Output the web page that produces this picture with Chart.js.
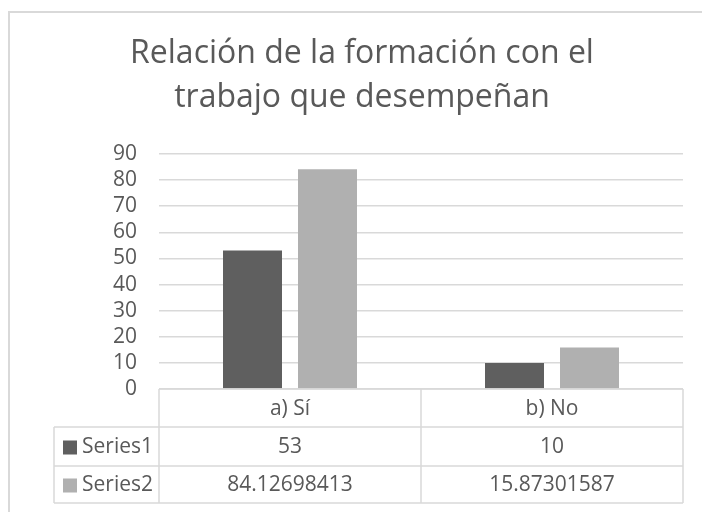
<!DOCTYPE html>
<html>
<head>
<meta charset="utf-8">
<script src="https://cdn.jsdelivr.net/npm/chart.js@4/dist/chart.umd.min.js"></script>
<style>
  body { margin: 0; background: #fff; overflow: hidden; }
  #frame {
    position: absolute; left: 8px; top: 11px;
    border-left: 2px solid #d9d9d9; border-top: 2px solid #d9d9d9;
    width: 704px; height: 500px;
  }
</style>
</head>
<body>
<div id="frame"><canvas id="chart" width="704" height="500"></canvas></div>
<script>
const categories = ["a) Sí", "b) No"];
const seriesNames = ["Series1", "Series2"];
const series1 = [53, 10];
const series2 = [84.12698413, 15.87301587];
const yTicks = [0, 10, 20, 30, 40, 50, 60, 70, 80, 90];

const colors = ["#5f5f5f", "#b0b0b0"];
const textColor = "#595959";
const lineColor = "#d9d9d9";
const fontFamily = "'Open Sans', sans-serif";

// data table under the plot, like Excel's
const dataTable = {
  id: "dataTable",
  afterDraw: chart => {
    const ctx = chart.ctx;
    const area = chart.chartArea;
    const x = chart.scales.x;
    const rows = [area.bottom, area.bottom + 38, area.bottom + 77, area.bottom + 114];
    const labelLeft = 44;
    const mid = (x.getPixelForValue(0) + x.getPixelForValue(1)) / 2;

    ctx.save();
    ctx.strokeStyle = lineColor;
    ctx.lineWidth = 1.5;
    ctx.beginPath();
    // horizontal lines
    ctx.moveTo(area.left, rows[0]); ctx.lineTo(area.right, rows[0]);
    for (let i = 1; i < rows.length; i++) {
      ctx.moveTo(labelLeft, rows[i]); ctx.lineTo(area.right, rows[i]);
    }
    // vertical lines
    ctx.moveTo(labelLeft, rows[1]); ctx.lineTo(labelLeft, rows[3]);
    [area.left, mid, area.right].forEach(px => {
      ctx.moveTo(px, rows[0]); ctx.lineTo(px, rows[3]);
    });
    ctx.stroke();

    ctx.fillStyle = textColor;
    ctx.font = "21px " + fontFamily;
    ctx.textBaseline = "middle";
    ctx.textAlign = "center";
    const cols = [(area.left + mid) / 2, (mid + area.right) / 2];
    categories.forEach((c, i) => ctx.fillText(c, cols[i], (rows[0] + rows[1]) / 2 + 1));

    const values = [series1, series2];
    seriesNames.forEach((name, r) => {
      const cy = (rows[r + 1] + rows[r + 2]) / 2 + 1;
      ctx.fillStyle = colors[r];
      ctx.fillRect(53, cy - 7, 14, 14);
      ctx.fillStyle = textColor;
      ctx.textAlign = "left";
      ctx.fillText(name, 72, cy);
      ctx.textAlign = "center";
      values[r].forEach((v, i) => ctx.fillText(String(v), cols[i], cy));
    });
    ctx.restore();
  }
};

new Chart(document.getElementById("chart").getContext("2d"), {
  type: "bar",
  data: {
    labels: categories,
    datasets: [
      { label: seriesNames[0], data: series1, backgroundColor: colors[0] },
      { label: seriesNames[1], data: series2, backgroundColor: colors[1] }
    ]
  },
  plugins: [dataTable],
  options: {
    responsive: false,
    animation: false,
    categoryPercentage: 0.5725,
    barPercentage: 0.7867,
    layout: { padding: { left: 31, right: 31, top: 0, bottom: 124 } },
    plugins: {
      legend: { display: false },
      tooltip: { enabled: false },
      title: {
        display: true,
        text: ["Relación de la formación con el", "trabajo que desempeñan"],
        color: textColor,
        font: { family: fontFamily, size: 32, weight: "normal", lineHeight: 1.375 },
        padding: { top: 18.5, bottom: 34.5 }
      }
    },
    scales: {
      x: { display: false },
      y: {
        min: 0,
        max: 90,
        afterFit: s => { s.width = 118; },
        afterBuildTicks: s => { s.ticks = yTicks.map(v => ({ value: v })); },
        border: { display: false },
        grid: { color: lineColor, lineWidth: 1.5, drawTicks: false },
        ticks: {
          autoSkip: false,
          padding: 22,
          color: textColor,
          font: { family: fontFamily, size: 21, lineHeight: 1 }
        }
      }
    }
  }
});
</script>
</body>
</html>
